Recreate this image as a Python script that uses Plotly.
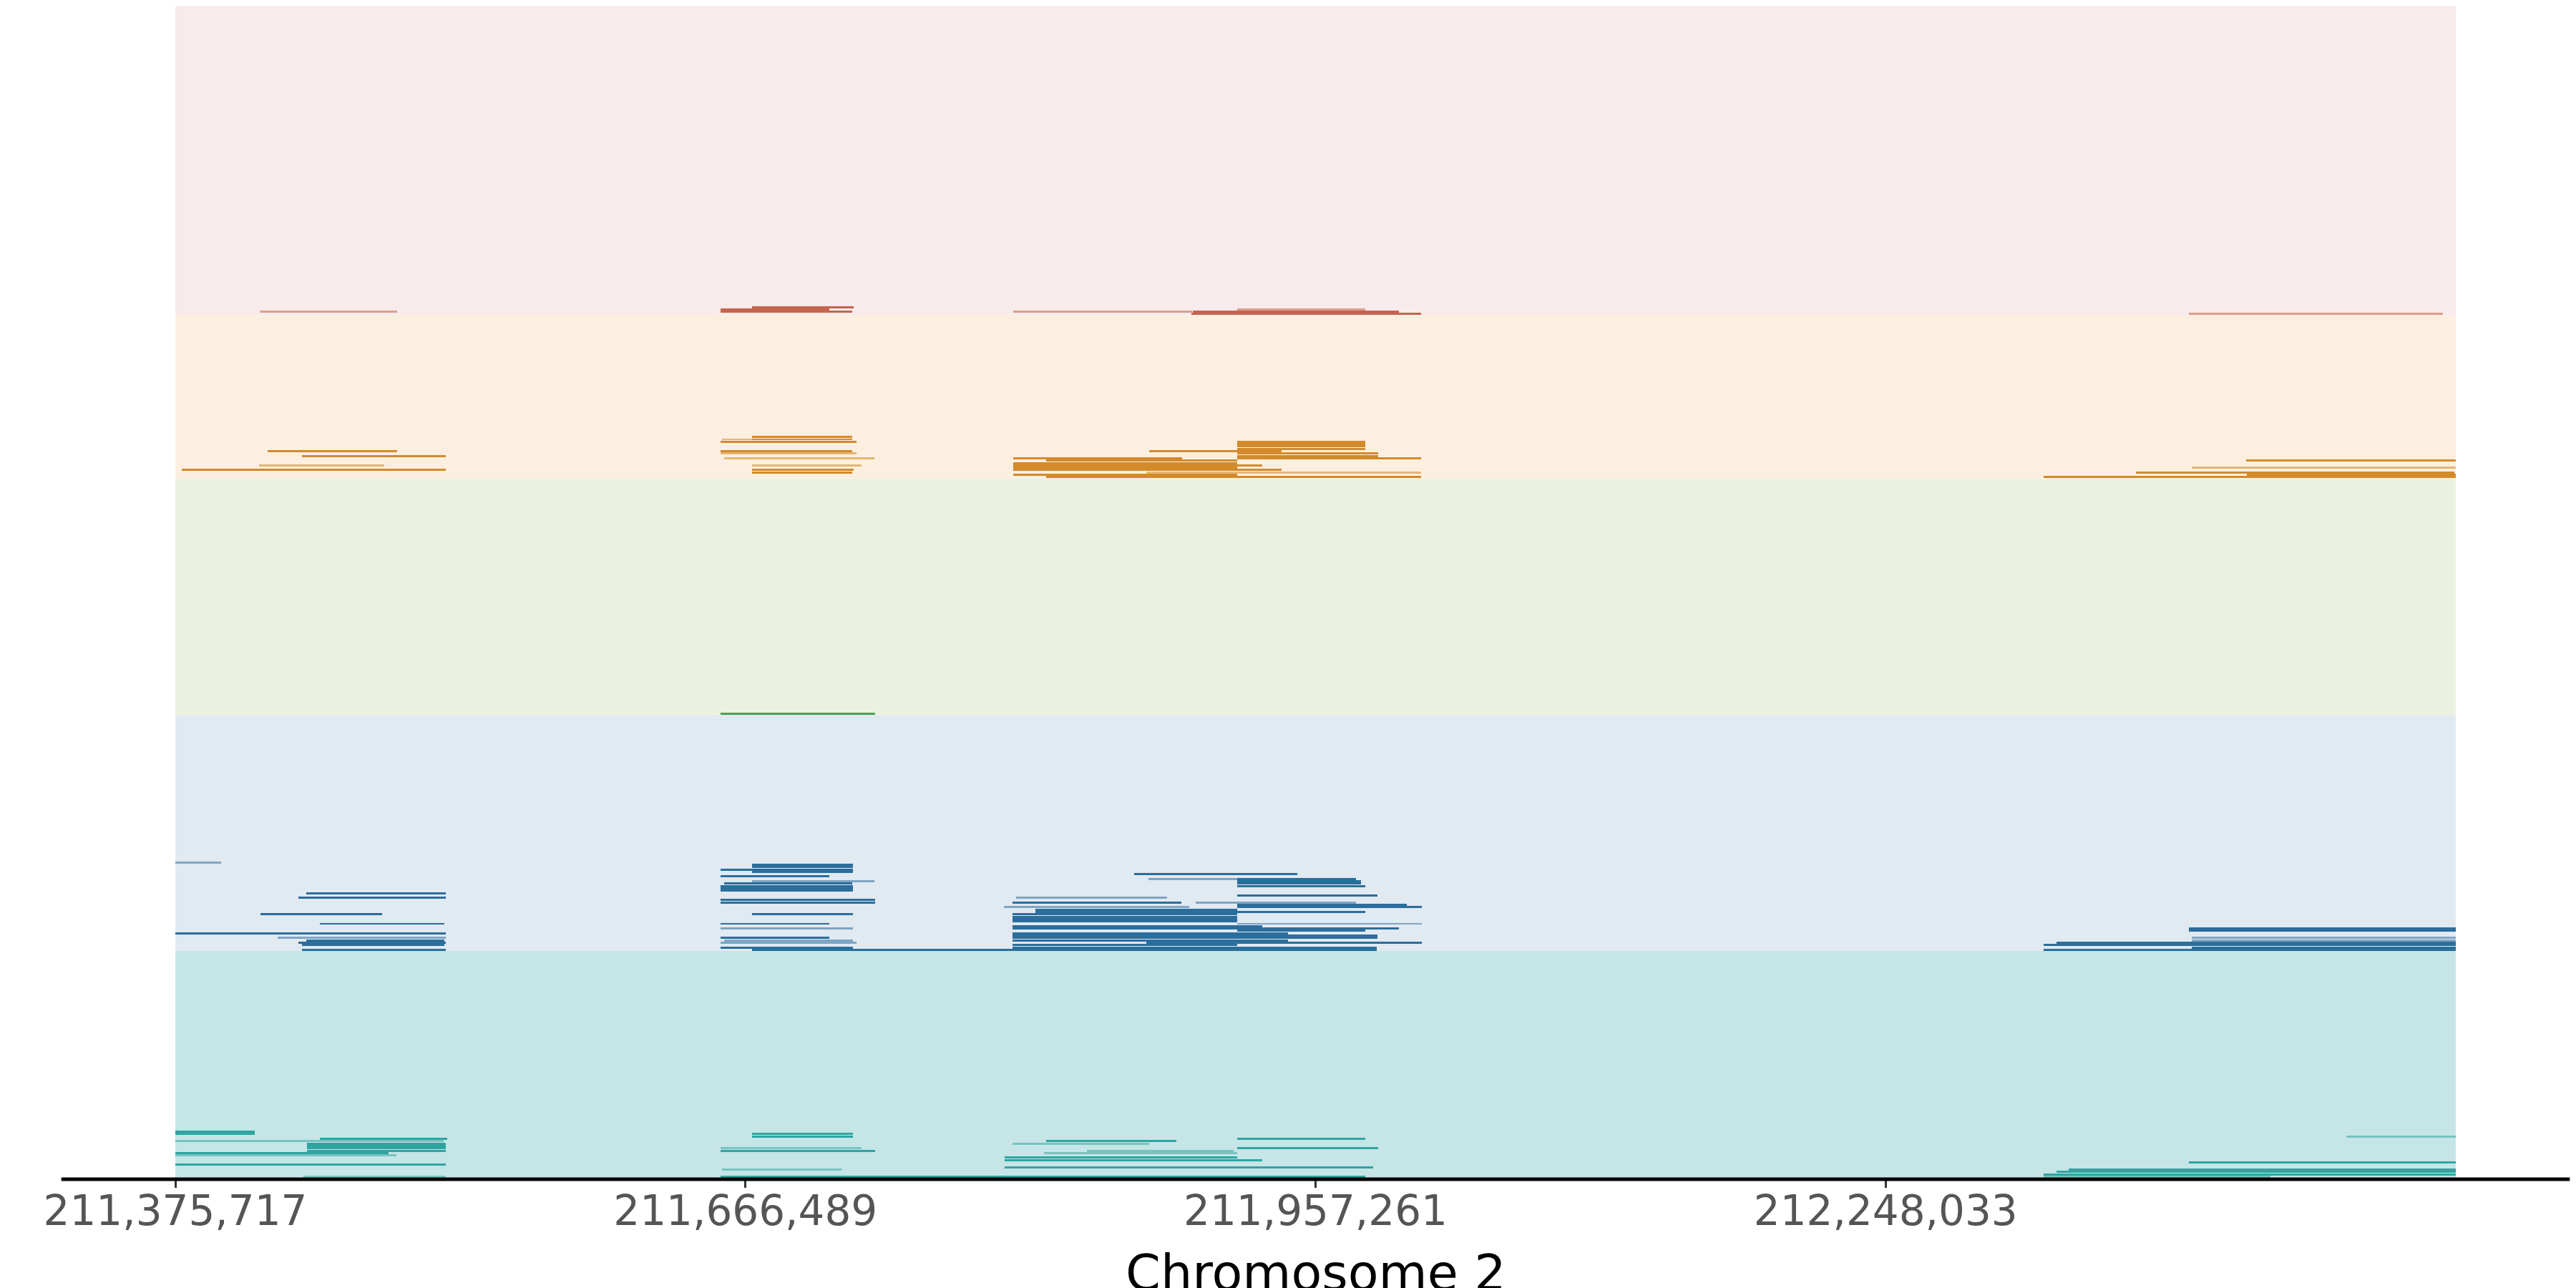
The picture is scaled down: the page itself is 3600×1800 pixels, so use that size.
import plotly.graph_objects as go

# x range shown (bp) and tick positions
x_start = 211375717
x_end = 212538805
tick_vals = [211375717, 211666489, 211957261, 212248033]
tick_text = ["211,375,717", "211,666,489", "211,957,261", "212,248,033"]
x_title = "Chromosome 2"

# bands from bottom to top: name, number of sample rows
band_names = ["teal", "blue", "green", "orange", "pink"]
band_rows = [96, 100, 100, 69, 131]

# segments per band: (start, end, row inside band, weak)
teal_segments = [
    (211375717, 211416200, 19, 0), (211375717, 211416200, 18, 0),
    (211449500, 211514400, 16, 0), (211375717, 211512600, 15, 1),
    (211442900, 211513700, 14, 0), (211442900, 211513700, 13, 0),
    (211442900, 211513700, 12, 0), (211442900, 211513700, 11, 0),
    (211375717, 211484500, 10, 0), (211375717, 211488500, 9, 1),
    (211375717, 211513700, 5, 0), (211441100, 211513700, 0, 1),
    (211669900, 211721400, 18, 0), (211669900, 211721400, 17, 0),
    (211653900, 211725800, 12, 1), (211653900, 211732700, 11, 0),
    (211654600, 211715500, 3, 1), (211653900, 211982700, 0, 0),
    (211917400, 211982700, 16, 0), (211819900, 211886400, 15, 0),
    (211802800, 211872500, 14, 1), (211917400, 211989300, 12, 0),
    (211840700, 211915600, 11, 1), (211818800, 211917400, 10, 1),
    (211798800, 211917400, 8, 0), (211798800, 211930200, 7, 0),
    (211798800, 211986700, 4, 0),
    (212482800, 212538805, 17, 1), (212402800, 212538805, 6, 0),
    (212341500, 212538805, 3, 0), (212335300, 212538805, 2, 0),
    (212328700, 212538805, 1, 0), (212328700, 212444100, 0, 1),
]

blue_segments = [
    (211375717, 211399100, 37, 1), (211442500, 211513700, 24, 0),
    (211438500, 211513700, 22, 0), (211419200, 211481200, 15, 0),
    (211449500, 211513000, 11, 0), (211375717, 211513700, 7, 0),
    (211427900, 211513700, 5, 1), (211442500, 211513000, 4, 0),
    (211438500, 211513700, 3, 0), (211440300, 211513000, 2, 0),
    (211440300, 211513700, 0, 0),
    (211669900, 211721400, 36, 0), (211669900, 211721400, 35, 0),
    (211653900, 211721400, 34, 0), (211669900, 211721400, 33, 0),
    (211653900, 211709300, 31, 0), (211669900, 211732300, 29, 1),
    (211655700, 211721000, 28, 0), (211653900, 211721400, 27, 0),
    (211653900, 211721400, 26, 0), (211653900, 211721400, 25, 0),
    (211653900, 211732700, 21, 0), (211653900, 211732700, 20, 0),
    (211669900, 211721400, 15, 0), (211653900, 211709300, 11, 0),
    (211653900, 211721400, 9, 1), (211653900, 211709300, 5, 0),
    (211655700, 211721400, 4, 1), (211653900, 211723200, 3, 1),
    (211653900, 211721400, 1, 0), (211669900, 211802800, 0, 0),
    (211864800, 211948000, 32, 0), (211872100, 211917400, 30, 1),
    (211917400, 211978000, 30, 0), (211917400, 211980500, 29, 0),
    (211917400, 211980500, 28, 0), (211917400, 211982700, 27, 0),
    (211917400, 211988900, 23, 0), (211804600, 211881600, 22, 1),
    (211802800, 211888900, 20, 0), (211896200, 211978000, 20, 1),
    (211917400, 212003900, 19, 0), (211798400, 211892900, 18, 1),
    (211917400, 212011600, 18, 0), (211814500, 211917400, 17, 0),
    (211814500, 211982700, 16, 0), (211802800, 211917400, 15, 0),
    (211802800, 211917400, 14, 0), (211802800, 211917400, 13, 0),
    (211802800, 211917400, 12, 0), (211917400, 212011600, 11, 1),
    (211802800, 211930200, 10, 0), (211802800, 211999900, 9, 0),
    (211917400, 211982700, 8, 0), (211802800, 211943300, 7, 0),
    (211802800, 211988900, 6, 0), (211802800, 211988900, 5, 0),
    (211802800, 211943300, 4, 0), (211871000, 212011600, 3, 0),
    (211802800, 211917400, 2, 0), (211802800, 211988600, 1, 0),
    (211802800, 211988600, 0, 0),
    (212402500, 212538805, 9, 0), (212402500, 212538805, 8, 0),
    (212404300, 212538805, 5, 1), (212404300, 212538805, 4, 1),
    (212335300, 212538805, 3, 0), (212328700, 212404300, 2, 0),
    (212404300, 212538805, 2, 0), (212404300, 212538805, 1, 0),
    (212328700, 212538805, 0, 0),
]

green_segments = [
    (211653900, 211732700, 0, 0),
]

orange_segments = [
    (211422800, 211488900, 11, 0), (211440300, 211513700, 9, 0),
    (211418400, 211482300, 5, 1), (211379000, 211513700, 3, 0),
    (211669900, 211721000, 17, 0), (211669900, 211721000, 16, 0),
    (211654600, 211669900, 16, 1), (211653900, 211709300, 15, 0),
    (211707500, 211723200, 15, 0), (211653900, 211721000, 11, 0),
    (211653900, 211723200, 10, 1), (211655700, 211732300, 8, 1),
    (211669900, 211725800, 5, 1), (211669900, 211721700, 3, 0),
    (211669900, 211721000, 2, 0),
    (211917400, 211982700, 15, 0), (211917400, 211982700, 14, 0),
    (211917400, 211982700, 13, 0), (211917400, 211982700, 12, 0),
    (211872500, 211940000, 11, 0), (211917400, 211989300, 10, 0),
    (211917400, 211989300, 9, 0), (211803100, 211889300, 8, 0),
    (211917400, 212011200, 8, 0), (211819900, 211917400, 7, 0),
    (211803100, 211917400, 6, 0), (211803100, 211930200, 5, 0),
    (211803100, 211917400, 4, 0), (211803100, 211940000, 3, 0),
    (211871000, 212011200, 2, 1), (211803100, 211917400, 1, 0),
    (211819900, 212011200, 0, 0),
    (212431700, 212538805, 7, 0), (212404300, 212538805, 4, 1),
    (212375800, 212537900, 2, 0), (212432400, 212538805, 1, 0),
    (212328700, 212538805, 0, 0),
]

pink_segments = [
    (211418800, 211488900, 1, 1),
    (211669900, 211721700, 3, 0), (211653900, 211709300, 2, 0),
    (211653900, 211721000, 1, 0),
    (211803100, 211894400, 1, 1), (211894800, 211917800, 1, 0),
    (211917400, 211982700, 2, 1), (211917400, 211999900, 1, 0),
    (211894000, 212011200, 0, 0),
    (212402800, 212532400, 0, 1),
]

segments = [teal_segments, blue_segments, green_segments, orange_segments, pink_segments]

band_fill = ["#c5e5e7", "#e1e9f1", "#eaf2df", "#fcefdf", "#f8ebeb"]
seg_color = ["#2fa5a1", "#2b6e9b", "#4f9f55", "#d38a2b", "#c4654f"]
seg_weak_color = ["#76c4c1", "#7ea5c3", "#8dc290", "#e4b675", "#dc9e8e"]

fig = go.Figure()

shapes = []
offset = 0
for i, name in enumerate(band_names):
    shapes.append(dict(type="rect", xref="paper", yref="y", x0=0, x1=1,
                       y0=offset, y1=offset + band_rows[i], layer="below",
                       fillcolor=band_fill[i], line=dict(width=0)))
    for weak, col in [(1, seg_weak_color[i]), (0, seg_color[i])]:
        segs = [s for s in segments[i] if s[3] == weak]
        if not segs:
            continue
        fig.add_trace(go.Bar(
            orientation="h",
            base=[s[0] for s in segs],
            x=[s[1] - s[0] for s in segs],
            y=[offset + s[2] + 0.5 for s in segs],
            width=0.9,
            marker=dict(color=col, line=dict(width=0)),
            name=name,
            showlegend=False,
        ))
    offset += band_rows[i]

# baseline spanning wider than the plot
shapes.append(dict(type="line", xref="paper", yref="paper", x0=-0.05, x1=1.05,
                   y0=-0.0012, y1=-0.0012, line=dict(color="black", width=5),
                   layer="above"))

# axis title placed by hand (partly below the page edge, as in the original)
fig.add_annotation(text=x_title, xref="paper", yref="paper", x=0.5, y=-0.081,
                   xanchor="center", yanchor="middle", showarrow=False,
                   font=dict(size=70, color="black"))

fig.update_layout(
    width=3600, height=1800,
    margin=dict(l=245, r=168, t=8, b=154),
    paper_bgcolor="white", plot_bgcolor="white",
    barmode="overlay", bargap=0,
    shapes=shapes,
    font=dict(family="DejaVu Sans"),
    xaxis=dict(range=[x_start, x_end], tickvals=tick_vals, ticktext=tick_text,
               ticks="outside", ticklen=13, tickwidth=3, tickcolor="#333333",
               tickfont=dict(size=58, color="#555555"), ticklabelstandoff=-18,
               showgrid=False, zeroline=False, showline=False, automargin=False),
    yaxis=dict(range=[0, sum(band_rows)], visible=False, fixedrange=True),
)

fig.write_html("out.html", config={"displayModeBar": False},
               post_script="document.body.style.margin='0';")
